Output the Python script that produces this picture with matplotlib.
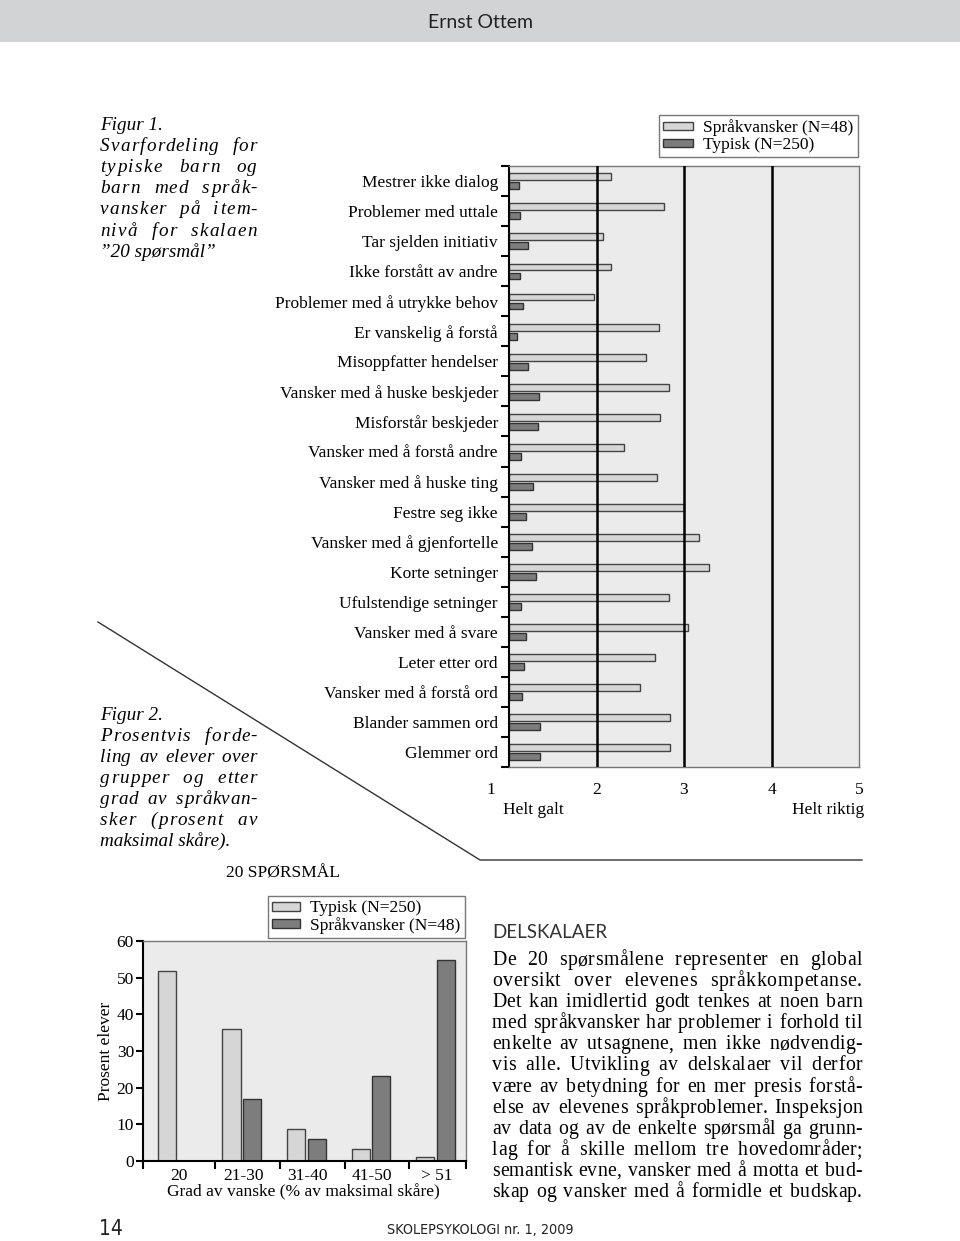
import matplotlib
matplotlib.use("Agg")
import matplotlib.pyplot as plt
from matplotlib.patches import Patch, Rectangle
from matplotlib.lines import Line2D
from matplotlib.font_manager import FontProperties
from matplotlib.transforms import ScaledTranslation

W, H = 960, 1241

# --- data: figur 1 (item level, mean score 1-5) ---
items = [
    "Mestrer ikke dialog", "Problemer med uttale", "Tar sjelden initiativ",
    "Ikke forstått av andre", "Problemer med å utrykke behov",
    "Er vanskelig å forstå", "Misoppfatter hendelser",
    "Vansker med å huske beskjeder", "Misforstår beskjeder",
    "Vansker med å forstå andre", "Vansker med å huske ting",
    "Festre seg ikke", "Vansker med å gjenfortelle", "Korte setninger",
    "Ufulstendige setninger", "Vansker med å svare", "Leter etter ord",
    "Vansker med å forstå ord", "Blander sammen ord", "Glemmer ord",
]
sprak_items = [2.16, 2.77, 2.07, 2.16, 1.97, 2.71, 2.56, 2.83, 2.72, 2.31,
               2.69, 3.00, 3.17, 3.29, 2.83, 3.04, 2.67, 2.50, 2.84, 2.84]
typisk_items = [1.11, 1.13, 1.22, 1.13, 1.16, 1.09, 1.22, 1.34, 1.33, 1.14,
                1.27, 1.19, 1.26, 1.31, 1.14, 1.19, 1.17, 1.15, 1.35, 1.35]
scale_ticks = [1, 2, 3, 4, 5]

# --- data: figur 2 (percent of pupils per group) ---
groups = ["20", "21-30", "31-40", "41-50", "> 51"]
typisk_pct = [51.7, 36.0, 8.6, 3.2, 1.0]
sprak_pct = [0.0, 17.0, 6.1, 23.1, 54.7]

LIGHT = "#d6d6d6"
DARK = "#7d7d7d"
PANEL = "#ebebeb"
SERIF = "Liberation Serif"

plt.rcParams["font.family"] = [SERIF, "DejaVu Serif"]

fig = plt.figure(figsize=(W / 100, H / 100), dpi=100)
renderer = fig.canvas.get_renderer()


def fpos(x, y):
    return x / W, 1 - y / H


def axes_rect(left, top, right, bottom):
    return [left / W, 1 - bottom / H, (right - left) / W, (bottom - top) / H]


def tw(s, fp):
    if not s:
        return 0.0
    return renderer.get_text_width_height_descent(s, fp, ismath=False)[0]


def put_line(text, x0, x1, y, fp, justify=True, letter_w=0.0):
    """Draw one line of text, optionally justified between x0 and x1 (pixels)."""
    if not justify:
        fig.text(*fpos(x0, y), text, fontproperties=fp, va="baseline")
        return
    words = text.split(" ")
    widths = [tw(w, fp) for w in words]
    space = tw("a a", fp) - tw("aa", fp)
    gaps = sum(len(w) - 1 for w in words)
    natural = sum(widths) + space * (len(words) - 1)
    extra = (x1 - x0) - natural
    total = letter_w * gaps + (len(words) - 1)
    unit = extra / total if total > 0 else 0.0
    x = x0
    for w, wd in zip(words, widths):
        if letter_w > 0:
            for k, ch in enumerate(w):
                xx = x + tw(w[:k], fp) + k * letter_w * unit
                fig.text(*fpos(xx, y), ch, fontproperties=fp, va="baseline")
            wd = wd + (len(w) - 1) * letter_w * unit
        else:
            fig.text(*fpos(x, y), w, fontproperties=fp, va="baseline")
        x += wd + space + unit


# ---------------- page header / footer ----------------
fig.add_artist(Rectangle((0, 1 - 42 / H), 1, 42 / H, transform=fig.transFigure,
                         facecolor="#d1d3d4", edgecolor="none"))
fig.text(*fpos(480, 22), "Ernst Ottem", family=["Lato", "DejaVu Sans"],
         fontsize=14, ha="center", va="center", color="#222")
fig.text(*fpos(99, 1229), "14", family=["Liberation Sans Narrow", "DejaVu Sans"],
         fontsize=15, ha="left", va="center", color="#222", fontstretch="condensed")
fig.text(*fpos(480, 1230), "SKOLEPSYKOLOGI nr. 1, 2009",
         family=["Liberation Sans Narrow", "DejaVu Sans"], fontstretch="condensed",
         fontsize=10.3, ha="center", va="center", color="#222")

# ---------------- figur 1: horizontal bars ----------------
ax1 = fig.add_axes(axes_rect(509, 166, 859, 767))
ax1.set_facecolor(PANEL)
ypos = list(range(len(items)))
ax1.barh([y - 0.14 for y in ypos], [v - 1 for v in sprak_items], left=1,
         height=0.23, color=LIGHT, edgecolor="#444", linewidth=1.0, zorder=2)
ax1.barh([y + 0.16 for y in ypos], [v - 1 for v in typisk_items], left=1,
         height=0.23, color=DARK, edgecolor="#333", linewidth=1.0, zorder=2)
for xv in scale_ticks[1:-1]:
    ax1.axvline(xv, color="black", lw=1.8, zorder=3)
ax1.set_xlim(1, 5)
ax1.set_ylim(len(items) - 0.5, -0.5)
ax1.set_yticks(ypos)
ax1.set_yticklabels(items, fontsize=12.5)
ax1.set_yticks([y - 0.5 for y in ypos] + [len(items) - 0.5], minor=True)
ax1.tick_params(axis="y", which="major", length=0, pad=8)
ax1.tick_params(axis="y", which="minor", length=6, width=1.5, direction="out")
ax1.set_xticks(scale_ticks)
ax1.set_xticklabels([str(t) for t in scale_ticks], fontsize=12.5)
ax1.set_xticks(scale_ticks[1:-1], minor=True)
ax1.tick_params(axis="x", which="major", length=0, pad=11)
ax1.tick_params(axis="x", which="minor", length=9, width=1.8, direction="out")
lab1 = ax1.get_xticklabels()[0]
lab1.set_transform(lab1.get_transform() + ScaledTranslation(-0.18, 0, fig.dpi_scale_trans))
for side in ("top", "right", "bottom"):
    ax1.spines[side].set_color("#777")
    ax1.spines[side].set_linewidth(1.0)
ax1.spines["left"].set_linewidth(1.5)
fig.text(*fpos(503, 810), "Helt galt", fontsize=12.5, ha="left", va="center")
fig.text(*fpos(864, 810), "Helt riktig", fontsize=12.5, ha="right", va="center")

leg1 = ax1.legend(
    handles=[Patch(facecolor=LIGHT, edgecolor="#444", label="Språkvansker (N=48)"),
             Patch(facecolor=DARK, edgecolor="#333", label="Typisk (N=250)")],
    loc="upper right", bbox_to_anchor=fpos(858, 115), bbox_transform=fig.transFigure,
    fontsize=12.5, frameon=True, fancybox=False, handlelength=1.7, handleheight=0.35,
    handletextpad=0.6, borderpad=0.25, labelspacing=0.05, borderaxespad=0)
leg1.get_frame().set_edgecolor("#555")
leg1.get_frame().set_linewidth(1.0)

# ---------------- figur 2: grouped vertical bars ----------------
ax2 = fig.add_axes(axes_rect(143, 941, 466, 1161))
ax2.set_facecolor(PANEL)
xpos = list(range(len(groups)))
ax2.bar([x - 0.13 for x in xpos], typisk_pct, width=0.28, color=LIGHT,
        edgecolor="#444", linewidth=1.0, zorder=2)
ax2.bar([x + 0.19 for x in xpos], sprak_pct, width=0.28, color=DARK,
        edgecolor="#333", linewidth=1.0, zorder=2)
ax2.set_xlim(-0.5, len(groups) - 0.5)
ax2.set_ylim(0, 60)
ax2.set_yticks(range(0, 61, 10))
ax2.tick_params(axis="y", length=5, width=1.5, pad=1.5, labelsize=12.5)
ax2.set_xticks([x + 0.05 for x in xpos])
ax2.set_xticklabels(groups, fontsize=12.5)
ax2.set_xticks([-0.5] + [x + 0.62 for x in xpos[:-1]] + [len(groups) - 0.5], minor=True)
ax2.tick_params(axis="x", which="major", length=0, pad=5)
ax2.tick_params(axis="x", which="minor", length=6, width=1.5, direction="out")
for side in ("top", "right"):
    ax2.spines[side].set_color("#777")
    ax2.spines[side].set_linewidth(1.0)
ax2.spines["left"].set_linewidth(1.5)
ax2.spines["bottom"].set_linewidth(1.5)

leg2 = ax2.legend(
    handles=[Patch(facecolor=LIGHT, edgecolor="#444", label="Typisk (N=250)"),
             Patch(facecolor=DARK, edgecolor="#333", label="Språkvansker (N=48)")],
    loc="upper right", bbox_to_anchor=fpos(465, 896), bbox_transform=fig.transFigure,
    fontsize=12.5, frameon=True, fancybox=False, handlelength=1.6, handleheight=0.4,
    handletextpad=0.6, borderpad=0.25, labelspacing=0.05, borderaxespad=0)
leg2.get_frame().set_edgecolor("#555")
leg2.get_frame().set_linewidth(1.0)

fig.text(*fpos(283, 873), "20 SPØRSMÅL", fontsize=12.5, ha="center", va="center")
fig.text(*fpos(106, 1051), "Prosent elever", fontsize=12.5, rotation=90,
         ha="center", va="center")
fig.text(*fpos(303, 1192), "Grad av vanske (% av maksimal skåre)", fontsize=12.5,
         ha="center", va="center")

# ---------------- separator lines ----------------
fig.add_artist(Line2D([98 / W, 480 / W, 862 / W], [1 - 622 / H, 1 - 860 / H, 1 - 860 / H],
                      transform=fig.transFigure, color="#333", lw=1.0))

# ---------------- captions ----------------
cap_fp = FontProperties(family=SERIF, style="italic", size=13.8)
cap1 = [("Figur 1.", False), ("Svarfordeling for", True), ("typiske barn og", True),
        ("barn med språk-", True), ("vansker på item-", True), ("nivå for skalaen", True),
        ("”20 spørsmål”", False)]
for k, (line, just) in enumerate(cap1):
    put_line(line, 100, 257, 130 + 21.1 * k, cap_fp, just, letter_w=0.12)

cap2 = [("Figur 2.", False), ("Prosentvis forde-", True), ("ling av elever over", True),
        ("grupper og etter", True), ("grad av språkvan-", True), ("sker (prosent av", True),
        ("maksimal skåre).", False)]
for k, (line, just) in enumerate(cap2):
    put_line(line, 100, 257, 720 + 21 * k, cap_fp, just, letter_w=0.12)

# ---------------- body text ----------------
fig.text(*fpos(492, 932), "DELSKALAER", family=["Lato", "DejaVu Sans"],
         fontsize=13.5, ha="left", va="center", color="#333")
body_fp = FontProperties(family=SERIF, size=14.2)
body = [
    "De 20 spørsmålene representer en global",
    "oversikt over elevenes språkkompetanse.",
    "Det kan imidlertid godt tenkes at noen barn",
    "med språkvansker har problemer i forhold til",
    "enkelte av utsagnene, men ikke nødvendig-",
    "vis alle. Utvikling av delskalaer vil derfor",
    "være av betydning for en mer presis forstå-",
    "else av elevenes språkproblemer. Inspeksjon",
    "av data og av de enkelte spørsmål ga grunn-",
    "lag for å skille mellom tre hovedområder;",
    "semantisk evne, vansker med å motta et bud-",
    "skap og vansker med å formidle et budskap.",
]
for k, line in enumerate(body):
    put_line(line, 492, 862, 965 + 21.1 * k, body_fp, True, letter_w=0.08)

fig.savefig("out.png", dpi=100, facecolor="white")
